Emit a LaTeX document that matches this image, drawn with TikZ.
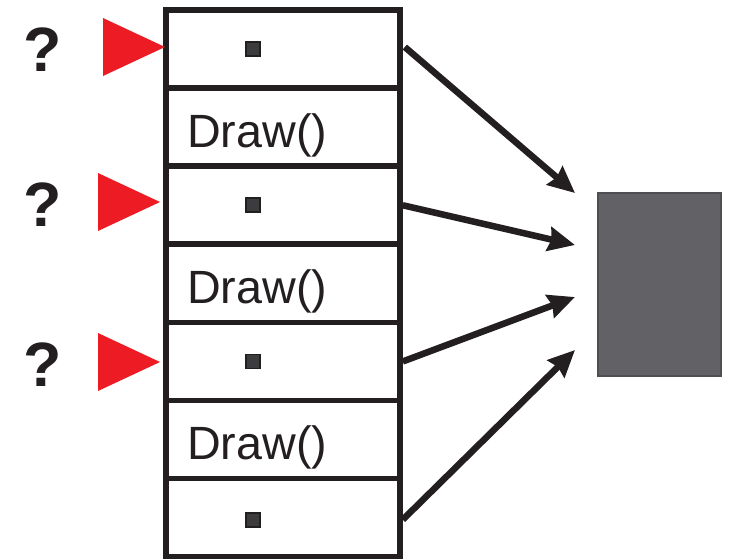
\documentclass[tikz,border=0pt]{standalone}
\usepackage{fontspec}
\setmainfont{Liberation Sans}
\usetikzlibrary{arrows.meta,calc}
\definecolor{ink}{HTML}{231F20}
\definecolor{marker}{HTML}{ED1C24}
\definecolor{slab}{HTML}{616166}
\definecolor{slabedge}{HTML}{4E4E53}
\definecolor{dot}{HTML}{3C3C3E}
\begin{document}
\begin{tikzpicture}[x=0.75pt,y=-0.75pt,
  cell/.style={draw=ink,line width=4.2pt,fill=white,minimum width=175.5pt,minimum height=58.6pt,inner sep=0pt},
  pin/.style={draw=ink,line width=1.1pt,fill=dot,minimum size=10.5pt,inner sep=0pt},
  label/.style={anchor=base west,inner sep=0pt,font=\fontsize{35}{36}\selectfont,text=ink},
  query/.style={anchor=base,inner sep=0pt,font=\fontsize{47}{48}\selectfont\bfseries,text=ink},
  pointer/.style={fill=marker,draw=none},
  link/.style={draw=ink,line width=4.9pt,-{Stealth[length=20pt,width=18pt,inset=2pt]}}]
\useasboundingbox (0,0) rectangle (732,558);

% column of cells
\node[cell] (r1) at (283,49.05) {};
\node[cell] (r2) at (283,127.15) {};
\node[cell] (r3) at (283,205.25) {};
\node[cell] (r4) at (283,283.35) {};
\node[cell] (r5) at (283,361.45) {};
\node[cell] (r6) at (283,439.55) {};
\node[cell] (r7) at (283,517.65) {};

% handle markers inside the empty cells
\node[pin] (p1) at (253,49) {};
\node[pin] (p3) at (253,205) {};
\node[pin] (p5) at (253,361.5) {};
\node[pin] (p7) at (253,520) {};

% method labels
\node[label] (d2) at (187,147) {Draw()};
\node[label] (d4) at (187,303.5) {Draw()};
\node[label] (d6) at (187,459.5) {Draw()};

% red pointers and question marks
\foreach \r/\x/\y in {r1/165/47,r3/160/202,r5/160/362}{
  \coordinate (tip-\r) at (\x,\y);
  \fill[pointer] (tip-\r) -- ++(-62,-29) -- ++(0,58) -- cycle;
}
\node[query] (q1) at (43,71) {?};
\node[query] (q3) at (43,226.5) {?};
\node[query] (q5) at (43,386) {?};

% shared target
\node[draw=slabedge,line width=1.2pt,fill=slab,minimum width=92pt,minimum height=137pt,inner sep=0pt] (g) at (659.5,284.5) {};

\coordinate (t1) at (575,193);
\coordinate (t2) at (575,245);
\coordinate (t3) at (575,297);
\coordinate (t4) at (575,350);

\draw[link] ($(r1.east)+(2,-2)$) -- (t1);
\draw[link] (r3.east) -- (t2);
\draw[link] (r5.east) -- (t3);
\draw[link] ($(r7.east)+(0,2)$) -- (t4);
\end{tikzpicture}
\end{document}
